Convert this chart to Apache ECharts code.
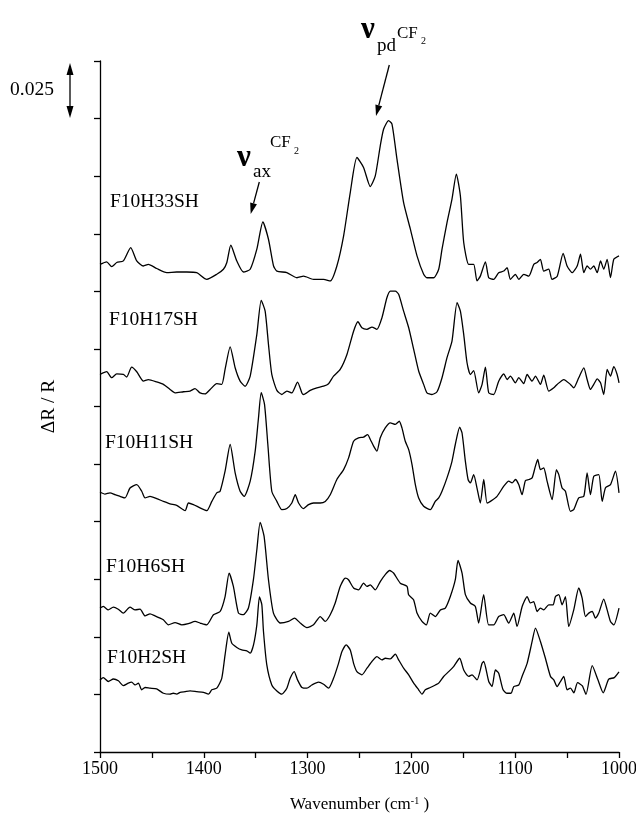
<!DOCTYPE html>
<html>
<head>
<meta charset="utf-8">
<script src="https://cdn.jsdelivr.net/npm/echarts@6/dist/echarts.min.js"></script>
<style>
  html, body { margin: 0; padding: 0; background: #fff; }
  #chart { width: 636px; height: 825px; }
</style>
</head>
<body>
<div id="chart"></div>
<script>
// spectra: [wavenumber (cm-1), ΔR/R as plotted, offsets included]
const sampleNames = ['F10H33SH', 'F10H17SH', 'F10H11SH', 'F10H6SH', 'F10H2SH'];

const specH33 = [[1500,0.2117],[1493.6,0.2128],[1488.7,0.2107],[1483.9,0.2125],[1477.5,0.2132],[1470.4,0.2190],[1464.6,0.2132],[1458.2,0.2110],[1453.4,0.2117],[1445.4,0.2099],[1435.7,0.2081],[1426.1,0.2084],[1416.4,0.2084],[1406.8,0.2081],[1397.1,0.2052],[1387.5,0.2074],[1381.1,0.2096],[1377.8,0.2125],[1374.0,0.2200],[1368.2,0.2132],[1361.8,0.2084],[1355.3,0.2096],[1348.9,0.2183],[1343.1,0.2301],[1337.7,0.2226],[1332.8,0.2110],[1329.6,0.2088],[1320.0,0.2081],[1310.3,0.2059],[1303.9,0.2066],[1294.3,0.2052],[1284.6,0.2052],[1278.2,0.2045],[1271.8,0.2110],[1265.3,0.2241],[1258.9,0.2429],[1252.5,0.2581],[1246.1,0.2538],[1239.6,0.2455],[1234.8,0.2501],[1230.0,0.2632],[1226.8,0.2704],[1222.0,0.2741],[1218.7,0.2726],[1213.9,0.2574],[1207.5,0.2385],[1201.0,0.2270],[1194.6,0.2154],[1188.2,0.2074],[1185.0,0.2059],[1178.6,0.2059],[1173.7,0.2096],[1170.5,0.2183],[1165.7,0.2298],[1160.9,0.2400],[1156.7,0.2509],[1152.8,0.2414],[1149.6,0.2212],[1144.8,0.2117],[1140.0,0.2117],[1136.8,0.2045],[1133.6,0.2066],[1128.7,0.2128],[1125.5,0.2059],[1120.7,0.2052],[1115.9,0.2081],[1111.0,0.2088],[1107.8,0.2103],[1104.6,0.2052],[1099.8,0.2074],[1096.6,0.2052],[1091.8,0.2074],[1086.9,0.2066],[1082.1,0.2117],[1078.9,0.2125],[1075.7,0.2139],[1072.5,0.2088],[1067.7,0.2096],[1064.5,0.2052],[1059.5,0.2066],[1053.8,0.2165],[1050.0,0.2110],[1045.1,0.2081],[1040.3,0.2110],[1037.1,0.2161],[1033.9,0.2081],[1030.7,0.2110],[1027.5,0.2096],[1024.3,0.2110],[1021.0,0.2081],[1017.8,0.2132],[1014.7,0.2096],[1011.4,0.2139],[1008.2,0.2060],[1005.0,0.2139],[1000,0.2154]];

const specH17 = [[1500,0.1639],[1493.6,0.1651],[1488.7,0.1625],[1483.9,0.1642],[1477.5,0.1639],[1474.3,0.1628],[1469.5,0.1671],[1464.6,0.1651],[1458.2,0.1610],[1453.4,0.1617],[1445.4,0.1607],[1438.9,0.1596],[1432.5,0.1574],[1427.7,0.1559],[1419.6,0.1564],[1413.2,0.1567],[1408.4,0.1578],[1403.6,0.1559],[1398.7,0.1555],[1393.9,0.1574],[1387.5,0.1599],[1382.7,0.1596],[1379.5,0.1661],[1374.6,0.1759],[1369.8,0.1668],[1365.0,0.1610],[1360.2,0.1588],[1355.3,0.1632],[1348.9,0.1813],[1344.7,0.1961],[1340.9,0.1914],[1337.7,0.1770],[1334.5,0.1639],[1329.6,0.1570],[1324.8,0.1552],[1320.0,0.1567],[1315.2,0.1559],[1309.7,0.1606],[1305.5,0.1559],[1303.9,0.1552],[1297.5,0.1570],[1291.1,0.1581],[1284.6,0.1588],[1279.8,0.1599],[1275.0,0.1632],[1268.6,0.1661],[1262.1,0.1726],[1255.7,0.1827],[1251.5,0.1868],[1247.7,0.1842],[1242.8,0.1835],[1238.0,0.1845],[1233.2,0.1835],[1228.4,0.1885],[1223.6,0.1972],[1220.3,0.2001],[1215.5,0.2001],[1212.3,0.1987],[1207.5,0.1914],[1202.6,0.1842],[1197.8,0.1748],[1193.0,0.1654],[1188.2,0.1596],[1185.0,0.1559],[1180.2,0.1552],[1175.3,0.1564],[1170.5,0.1625],[1165.7,0.1712],[1160.9,0.1784],[1156.0,0.1951],[1152.8,0.1914],[1149.6,0.1813],[1146.4,0.1690],[1143.2,0.1639],[1140.0,0.1656],[1135.2,0.1559],[1131.9,0.1596],[1128.7,0.1671],[1125.5,0.1559],[1120.7,0.1552],[1115.9,0.1610],[1111.0,0.1642],[1107.8,0.1617],[1104.6,0.1632],[1099.8,0.1603],[1096.6,0.1625],[1091.8,0.1599],[1088.5,0.1639],[1083.7,0.1610],[1080.5,0.1632],[1075.7,0.1596],[1072.5,0.1636],[1067.7,0.1567],[1062.8,0.1581],[1059.6,0.1596],[1053.2,0.1617],[1046.8,0.1596],[1043.6,0.1581],[1038.8,0.1625],[1033.9,0.1668],[1030.7,0.1617],[1027.5,0.1574],[1024.3,0.1596],[1021.0,0.1620],[1017.8,0.1603],[1014.7,0.1552],[1011.4,0.1661],[1008.2,0.1632],[1005.0,0.1673],[1001.8,0.1639],[1000,0.1603]];

const specH11 = [[1500,0.1129],[1495.2,0.1120],[1490.4,0.1125],[1485.5,0.1117],[1480.7,0.1110],[1475.9,0.1103],[1471.1,0.1146],[1464.6,0.1161],[1459.8,0.1132],[1456.6,0.1103],[1451.8,0.1110],[1445.4,0.1100],[1438.9,0.1088],[1432.5,0.1077],[1426.1,0.1071],[1418.0,0.1048],[1414.8,0.1081],[1410.0,0.1074],[1403.6,0.1060],[1397.1,0.1048],[1392.3,0.1088],[1387.5,0.1125],[1384.3,0.1132],[1379.5,0.1219],[1374.6,0.1335],[1369.8,0.1212],[1365.0,0.1132],[1361.1,0.1110],[1355.3,0.1176],[1350.5,0.1306],[1347.3,0.1451],[1344.7,0.1560],[1341.5,0.1509],[1338.3,0.1335],[1334.5,0.1132],[1329.6,0.1088],[1324.8,0.1052],[1320.0,0.1057],[1315.2,0.1081],[1311.9,0.1117],[1308.7,0.1081],[1303.9,0.1057],[1299.1,0.1074],[1294.3,0.1081],[1287.8,0.1081],[1283.0,0.1088],[1278.2,0.1117],[1271.8,0.1183],[1265.3,0.1226],[1260.5,0.1277],[1255.7,0.1349],[1250.9,0.1364],[1246.1,0.1367],[1242.2,0.1378],[1239.6,0.1357],[1236.4,0.1328],[1233.2,0.1306],[1230.0,0.1364],[1225.2,0.1407],[1220.3,0.1429],[1215.5,0.1422],[1211.7,0.1436],[1209.1,0.1407],[1205.9,0.1349],[1202.6,0.1313],[1199.4,0.1248],[1196.2,0.1161],[1193.0,0.1103],[1188.2,0.1067],[1181.8,0.1052],[1177.0,0.1088],[1173.7,0.1103],[1170.5,0.1132],[1165.7,0.1190],[1160.9,0.1262],[1157.7,0.1335],[1153.5,0.1410],[1151.2,0.1385],[1148.0,0.1262],[1145.4,0.1183],[1143.2,0.1168],[1140.0,0.1204],[1136.8,0.1146],[1133.6,0.1081],[1130.3,0.1183],[1127.1,0.1081],[1123.9,0.1088],[1117.5,0.1110],[1111.0,0.1154],[1106.2,0.1176],[1103.0,0.1168],[1099.8,0.1183],[1096.6,0.1161],[1093.4,0.1117],[1090.2,0.1178],[1086.9,0.1183],[1083.7,0.1190],[1080.5,0.1241],[1078.3,0.1270],[1075.7,0.1226],[1072.5,0.1233],[1069.3,0.1176],[1064.4,0.1096],[1060.3,0.1226],[1058.0,0.1204],[1054.8,0.1146],[1051.6,0.1132],[1046.8,0.1045],[1043.6,0.1052],[1038.8,0.1103],[1033.9,0.1110],[1030.7,0.1212],[1027.5,0.1117],[1024.3,0.1197],[1019.5,0.1204],[1016.2,0.1088],[1013.0,0.1147],[1008.2,0.1161],[1003.4,0.1219],[1000,0.1125]];

const specH6 = [[1500,0.0625],[1496.8,0.0632],[1492.0,0.0617],[1487.2,0.0629],[1482.4,0.0620],[1477.5,0.0603],[1471.1,0.0629],[1466.2,0.0617],[1461.4,0.0620],[1456.6,0.0591],[1451.8,0.0600],[1447.0,0.0591],[1442.1,0.0581],[1439.0,0.0574],[1434.1,0.0552],[1427.7,0.0562],[1421.2,0.0552],[1414.9,0.0557],[1408.4,0.0567],[1403.6,0.0560],[1397.1,0.0552],[1390.7,0.0596],[1384.3,0.0610],[1379.5,0.0675],[1375.6,0.0777],[1371.5,0.0719],[1366.6,0.0603],[1361.8,0.0596],[1357.0,0.0625],[1352.2,0.0748],[1348.9,0.0878],[1345.7,0.0997],[1341.9,0.0936],[1337.7,0.0748],[1332.9,0.0603],[1326.4,0.0560],[1318.4,0.0567],[1312.6,0.0581],[1307.1,0.0560],[1300.7,0.0540],[1294.3,0.0552],[1287.8,0.0588],[1283.0,0.0567],[1278.2,0.0596],[1273.4,0.0647],[1268.6,0.0719],[1263.7,0.0755],[1260.6,0.0748],[1255.7,0.0712],[1250.9,0.0704],[1246.1,0.0733],[1242.8,0.0719],[1239.6,0.0726],[1234.8,0.0704],[1230.0,0.0740],[1225.2,0.0770],[1221.0,0.0788],[1217.2,0.0777],[1210.7,0.0733],[1204.2,0.0719],[1202.7,0.0683],[1197.9,0.0661],[1194.6,0.0603],[1189.8,0.0567],[1185.6,0.0552],[1181.8,0.0603],[1177.0,0.0588],[1172.1,0.0617],[1167.3,0.0625],[1162.5,0.0675],[1157.7,0.0748],[1155.1,0.0832],[1151.2,0.0777],[1148.0,0.0683],[1143.2,0.0647],[1138.4,0.0632],[1135.2,0.0560],[1130.4,0.0683],[1125.6,0.0552],[1120.7,0.0552],[1115.9,0.0588],[1111.1,0.0596],[1106.3,0.0560],[1101.4,0.0603],[1098.2,0.0545],[1093.3,0.0632],[1088.5,0.0675],[1085.3,0.0647],[1082.2,0.0653],[1078.9,0.0610],[1075.7,0.0625],[1072.5,0.0617],[1067.7,0.0639],[1063.5,0.0639],[1061.2,0.0675],[1058.0,0.0683],[1054.8,0.0639],[1051.6,0.0675],[1048.4,0.0545],[1043.6,0.0617],[1038.8,0.0712],[1035.5,0.0668],[1032.3,0.0588],[1029.1,0.0603],[1025.8,0.0610],[1022.7,0.0581],[1019.5,0.0603],[1014.7,0.0664],[1011.4,0.0617],[1008.2,0.0567],[1005.0,0.0552],[1000,0.0625]];

const specH2 = [[1500,0.0313],[1496.8,0.0323],[1492.0,0.0306],[1487.1,0.0317],[1482.3,0.0309],[1477.5,0.0288],[1472.7,0.0299],[1469.5,0.0303],[1466.2,0.0291],[1463.0,0.0299],[1459.8,0.0270],[1456.6,0.0280],[1451.8,0.0277],[1445.4,0.0274],[1438.9,0.0255],[1432.5,0.0251],[1429.3,0.0255],[1426.1,0.0251],[1422.8,0.0259],[1418.0,0.0262],[1413.2,0.0265],[1406.8,0.0262],[1400.3,0.0259],[1395.5,0.0251],[1392.3,0.0270],[1387.5,0.0277],[1382.7,0.0320],[1379.5,0.0422],[1375.9,0.0520],[1373.0,0.0472],[1368.2,0.0454],[1363.4,0.0443],[1358.6,0.0439],[1355.3,0.0429],[1352.1,0.0465],[1348.9,0.0552],[1346.4,0.0673],[1344.1,0.0640],[1342.5,0.0523],[1339.3,0.0378],[1334.5,0.0291],[1329.6,0.0265],[1324.8,0.0251],[1320.0,0.0277],[1316.8,0.0320],[1312.9,0.0349],[1309.7,0.0313],[1305.5,0.0280],[1300.7,0.0277],[1295.9,0.0291],[1289.5,0.0303],[1284.6,0.0294],[1279.8,0.0277],[1275.0,0.0320],[1270.2,0.0385],[1266.9,0.0436],[1262.8,0.0465],[1258.9,0.0443],[1255.7,0.0385],[1252.5,0.0349],[1247.7,0.0335],[1242.8,0.0364],[1238.0,0.0393],[1233.2,0.0414],[1228.4,0.0400],[1225.2,0.0407],[1220.3,0.0404],[1215.5,0.0425],[1212.3,0.0400],[1207.5,0.0364],[1202.6,0.0335],[1197.8,0.0299],[1193.0,0.0270],[1189.8,0.0251],[1186.6,0.0270],[1181.8,0.0280],[1176.9,0.0291],[1173.7,0.0299],[1168.9,0.0328],[1164.1,0.0349],[1159.3,0.0371],[1153.5,0.0407],[1149.6,0.0356],[1144.8,0.0328],[1141.6,0.0335],[1136.8,0.0313],[1131.9,0.0385],[1130.3,0.0393],[1125.5,0.0306],[1122.3,0.0284],[1119.1,0.0356],[1115.9,0.0342],[1111.7,0.0270],[1107.8,0.0255],[1104.0,0.0255],[1101.4,0.0284],[1096.6,0.0291],[1093.4,0.0328],[1088.5,0.0385],[1083.7,0.0480],[1080.5,0.0538],[1075.7,0.0480],[1070.9,0.0407],[1066.0,0.0328],[1062.8,0.0313],[1059.6,0.0284],[1056.4,0.0306],[1053.2,0.0328],[1050.0,0.0270],[1046.8,0.0277],[1043.5,0.0257],[1039.9,0.0301],[1035.3,0.0287],[1031.8,0.0250],[1025.8,0.0375],[1020.5,0.0316],[1015.2,0.0257],[1009.9,0.0316],[1004.6,0.0323],[1000,0.0348]];

const spectra = [specH33, specH17, specH11, specH6, specH2];
const xTickLabels = [1500, 1400, 1300, 1200, 1100, 1000];

const chart = echarts.init(document.getElementById('chart'));
const FONT = 'Liberation Serif';

// arrow: shaft plus filled head at (x2, y2)
function arrow(x1, y1, x2, y2, len, half) {
  const d = Math.hypot(x2 - x1, y2 - y1);
  const ux = (x2 - x1) / d, uy = (y2 - y1) / d;
  const bx = x2 - ux * len, by = y2 - uy * len;
  return [
    { type: 'line', shape: { x1: x1, y1: y1, x2: bx, y2: by }, style: { stroke: '#000', lineWidth: 1.3 } },
    { type: 'polygon', shape: { points: [[x2, y2], [bx - uy * half, by + ux * half], [bx + uy * half, by - ux * half]] }, style: { fill: '#000' } }
  ];
}

function txt(x, y, s, size, weight) {
  return { type: 'text', x: x, y: y, style: { text: s, font: (weight || 'normal') + ' ' + size + 'px "' + FONT + '"', fill: '#000', verticalAlign: 'middle' } };
}

const labelPos = [[110, 202], [109, 320], [105, 443], [106, 567], [107, 658]];

const graphics = [
  txt(10, 90, '0.025', 19.5),
  ...arrow(70, 90, 70, 63, 12, 3.5),
  ...arrow(70, 90, 70, 118, 12, 3.5),
  ...sampleNames.map((n, i) => txt(labelPos[i][0], labelPos[i][1], n, 19.5)),
  // nu_ax CF2
  txt(237, 158, 'ν', 31, 'bold'),
  txt(253, 172, 'ax', 19),
  txt(270, 143, 'CF', 17),
  txt(294, 151, '2', 10),
  ...arrow(259.3, 182, 250.7, 214, 11, 3.5),
  // nu_pd CF2
  txt(361, 30, 'ν', 31, 'bold'),
  txt(377, 46, 'pd', 19),
  txt(397, 34, 'CF', 17),
  txt(421, 41, '2', 10),
  ...arrow(389.3, 65, 376, 116, 11, 3.5)
];

const option = {
  animation: false,
  backgroundColor: '#fff',
  grid: { left: 100, right: 17, top: 61, bottom: 73, outerBoundsMode: 'none' },
  xAxis: {
    type: 'value',
    min: 1000,
    max: 1500,
    interval: 50,
    inverse: true,
    name: 'Wavenumber (cm{sup|-1} )',
    nameLocation: 'middle',
    nameGap: 44,
    nameTextStyle: {
      fontFamily: FONT, fontSize: 17, color: '#000',
      rich: { sup: { fontFamily: FONT, fontSize: 10, verticalAlign: 'top', color: '#000' } }
    },
    axisLine: { lineStyle: { color: '#000', width: 1.3 } },
    axisTick: { length: 6, lineStyle: { color: '#000', width: 1.3 } },
    axisLabel: {
      fontFamily: FONT, fontSize: 18, color: '#000', margin: 8,
      formatter: v => (xTickLabels.indexOf(v) >= 0 ? String(v) : '')
    },
    splitLine: { show: false }
  },
  yAxis: {
    type: 'value',
    min: 0,
    max: 0.3,
    interval: 0.025,
    name: 'ΔR / R',
    nameLocation: 'middle',
    nameGap: 41,
    nameTextStyle: { fontFamily: FONT, fontSize: 19.5, color: '#000' },
    axisLine: { lineStyle: { color: '#000', width: 1.3 } },
    axisTick: { length: 6, lineStyle: { color: '#000', width: 1.3 } },
    axisLabel: { show: false },
    splitLine: { show: false }
  },
  series: spectra.map((d, i) => ({
    name: sampleNames[i],
    type: 'line',
    data: d,
    showSymbol: false,
    smooth: 0.2,
    lineStyle: { color: '#000', width: 1.3 }
  })),
  graphic: graphics
};

chart.setOption(option);
</script>
</body>
</html>
